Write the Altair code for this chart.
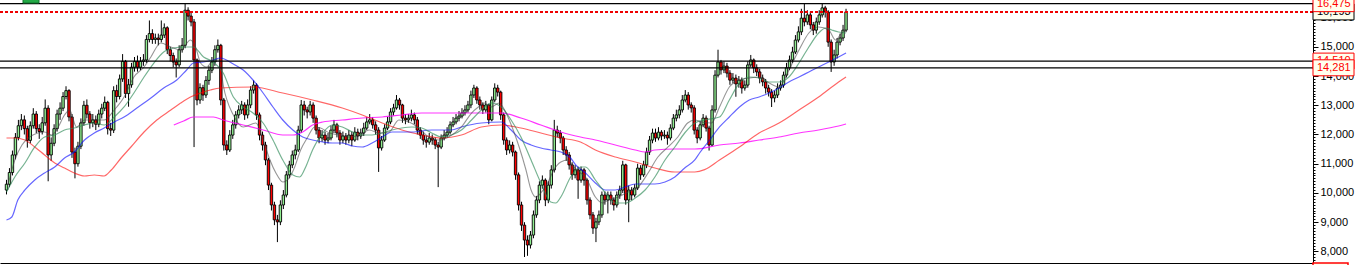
import altair as alt
import pandas as pd

# ---------------- data ----------------
opens = [
    10100, 10300, 10700, 11300, 11900, 12300, 12500, 12200, 11800, 12300,
    12700, 12200, 12100, 12400, 12900, 11300, 11700, 12200, 12700, 12900,
    13300, 13500, 12600, 11400, 11000, 11600, 12400, 13000, 12700, 12400,
    12500, 12350, 12700, 12900, 13100, 12200, 12150, 13500, 13300, 13900,
    14500, 13400, 13700, 14300, 14500, 14300, 14500, 14550, 15250, 15450,
    15250, 15300, 15250, 15400, 15650, 14900, 14700, 14480, 14380, 14900,
    15050, 16250, 16050, 15850, 14550, 13180, 13600, 13350, 13850, 14200,
    14480, 14900, 15050, 13180, 11640, 11470, 11980, 12330, 12670, 12840,
    13010, 12670, 13010, 13520, 13690, 12670, 11980, 11640, 11130, 10270,
    9590, 9080, 9010, 9590, 9930, 10620, 10960, 11300, 11470, 12150,
    13010, 12840, 12770, 13010, 12560, 12150, 11880, 11980, 11810, 11880,
    12150, 12330, 12050, 11810, 11950, 11810, 11980, 11810, 12080, 11950,
    12050, 12220, 12430, 12500, 12330, 12150, 11540, 11810, 12220, 12430,
    12770, 12910, 13180, 13010, 12560, 12500, 12560, 12670, 12500, 12150,
    11980, 11810, 11740, 11880, 11810, 11640, 11570, 11880, 11980, 12080,
    12330, 12430, 12560, 12630, 12740, 12840, 13010, 13350, 13590, 13180,
    13010, 12840, 13010, 12500, 13180, 13590, 13450, 12670, 11810, 11470,
    11640, 11400, 10620, 9590, 8900, 8390, 8220, 8560, 9250, 9760,
    10270, 10440, 9760, 10270, 10790, 12150, 12050, 11880, 11470, 11300,
    10960, 10620, 10790, 10440, 10790, 10440, 9760, 9250, 8800, 9010,
    9250, 9930, 9760, 9930, 9760, 9590, 9930, 10100, 10960, 9760,
    10100, 9930, 10170, 10850, 10620, 10960, 11400, 11810, 12050, 11880,
    12080, 11950, 11980, 11880, 12220, 12560, 12670, 12840, 13180, 13350,
    13010, 12910, 12150, 11880, 12330, 12560, 12220, 11640, 12840, 14030,
    14480, 14210, 14340, 14100, 13860, 13930, 13730, 13860, 13590, 13690,
    14380, 14550, 14280, 14140, 13930, 13800, 13590, 13450, 13250, 13350,
    13590, 13690, 14030, 14280, 14550, 14820, 15230, 15510, 15980, 15850,
    16090, 15750, 15570, 15850, 16090, 16330, 16190, 15160, 14480, 14720,
    15160, 15300, 15570,
]
highs = [
    10450, 10850, 11450, 12050, 12500, 12700, 12650, 12300, 12450, 12900,
    12800, 12350, 12600, 13200, 13000, 11900, 12350, 12850, 13100, 13450,
    13650, 13550, 12700, 11550, 11750, 12550, 13150, 13200, 12800, 12700,
    12650, 12850, 13050, 13300, 13150, 12400, 13650, 13700, 14050, 14750,
    14550, 13900, 14450, 14650, 14700, 14650, 14750, 15400, 15900, 15600,
    15450, 15450, 15900, 15800, 15700, 15000, 14800, 14600, 15050, 15300,
    16475, 16350, 16200, 15950, 14600, 13750, 13700, 14000, 14350, 14650,
    15050, 15250, 15100, 13250, 11800, 12150, 12500, 12800, 13000, 13150,
    13100, 13200, 13650, 13850, 13750, 12750, 12100, 11750, 11200, 10350,
    9700, 9250, 9750, 10100, 10750, 11100, 11450, 11650, 12300, 13180,
    13150, 12950, 13150, 13100, 12650, 12250, 12150, 12100, 12050, 12300,
    12500, 12400, 12150, 12100, 12050, 12150, 12100, 12250, 12200, 12200,
    12400, 12600, 12700, 12600, 12450, 12250, 11950, 12350, 12600, 12900,
    13050, 13350, 13250, 13050, 12700, 12700, 12850, 12750, 12600, 12250,
    12100, 11950, 12050, 12000, 11900, 11750, 12000, 12150, 12250, 12450,
    12600, 12700, 12800, 12900, 13000, 13150, 13500, 13700, 13650, 13300,
    13100, 13150, 13050, 13300, 13750, 13700, 13500, 12750, 11900, 11800,
    11750, 11450, 10700, 9700, 9000, 8550, 8700, 9400, 9900, 10400,
    10600, 10500, 10400, 10950, 12500, 12300, 12150, 11950, 11600, 11400,
    11050, 10950, 10900, 10900, 10850, 10500, 9850, 9350, 9150, 9400,
    10050, 10050, 10050, 10050, 9850, 10050, 10250, 11100, 11000, 10250,
    10200, 10300, 11000, 10950, 11100, 11550, 11950, 12200, 12200, 12250,
    12150, 12150, 12100, 12350, 12700, 12850, 13000, 13350, 13520, 13450,
    13100, 13000, 12250, 12450, 12700, 12650, 12300, 13000, 14200, 14900,
    14550, 14500, 14450, 14200, 14100, 14050, 14000, 13950, 13850, 14500,
    14720, 14600, 14400, 14250, 14050, 13900, 13700, 13550, 13500, 13750,
    13850, 14150, 14450, 14700, 15000, 15400, 15700, 16300, 16475, 16250,
    16200, 15850, 16000, 16250, 16475, 16400, 16250, 15250, 14900, 15300,
    15450, 15750, 16300,
]
lows = [
    9950, 10200, 10600, 11150, 11800, 12150, 12000, 11550, 11700, 12200,
    12050, 11850, 12000, 12300, 10400, 11100, 11600, 12100, 12500, 12800,
    13200, 12450, 11200, 10500, 10900, 11500, 12300, 12550, 12200, 12250,
    12150, 12250, 12550, 12800, 12000, 11950, 12050, 13100, 13200, 13800,
    13250, 12950, 13600, 14150, 14150, 14200, 14350, 14450, 15150, 15100,
    15100, 15050, 15150, 15300, 14750, 14500, 14300, 13950, 14300, 14800,
    14950, 15900, 15700, 11570, 13000, 13050, 13150, 13250, 13700, 14100,
    14350, 14800, 13000, 11450, 11300, 11400, 11850, 12200, 12550, 12700,
    12500, 12550, 12900, 13400, 12500, 11800, 11450, 10950, 10100, 9400,
    8900, 8320, 8900, 9450, 9850, 10500, 10850, 11150, 11400, 12050,
    12650, 12550, 12650, 12400, 12000, 11700, 11750, 11650, 11700, 11800,
    12050, 11900, 11650, 11700, 11650, 11700, 11600, 11750, 11800, 11850,
    11950, 12150, 12350, 12200, 12000, 10720, 11450, 11750, 12150, 12350,
    12650, 12850, 12850, 12400, 12350, 12400, 12450, 12350, 12000, 11850,
    11650, 11550, 11650, 11650, 11500, 10200, 11500, 11800, 11900, 12000,
    12250, 12350, 12450, 12550, 12650, 12750, 12900, 13250, 13050, 12850,
    12700, 12750, 12350, 12450, 13100, 13300, 12500, 11650, 11300, 11350,
    11250, 10450, 9400, 8700, 7810, 7850, 8100, 8450, 9150, 9650,
    10150, 9550, 9650, 10150, 10700, 11900, 11700, 11300, 11100, 10800,
    10450, 10500, 9800, 10350, 10250, 9600, 9100, 8600, 8320, 8900,
    9150, 9600, 9300, 9600, 9400, 9500, 9800, 10000, 9600, 9000,
    9750, 9850, 10100, 10450, 10550, 10850, 11300, 11700, 11750, 11800,
    11800, 11850, 11650, 11800, 12150, 12450, 12550, 12750, 13100, 12850,
    12750, 12000, 11700, 11800, 12250, 12100, 11450, 11600, 12750, 13950,
    14050, 14100, 13950, 13700, 13750, 13290, 13600, 13400, 13500, 13600,
    14300, 14100, 14000, 13750, 13650, 13400, 13300, 12940, 13100, 13250,
    13500, 13600, 13950, 14200, 14450, 14750, 15150, 15400, 15700, 15750,
    15600, 15400, 15450, 15750, 16000, 16000, 15000, 14140, 14350, 14600,
    15050, 15200, 15500,
]
closes = [
    10300, 10700, 11300, 11900, 12300, 12500, 12200, 11800, 12300, 12700,
    12200, 12100, 12400, 12900, 11300, 11700, 12200, 12700, 12900, 13300,
    13500, 12600, 11400, 11000, 11600, 12400, 13000, 12700, 12400, 12500,
    12350, 12700, 12900, 13100, 12200, 12150, 13500, 13300, 13900, 14500,
    13400, 13700, 14300, 14500, 14300, 14500, 14550, 15250, 15450, 15250,
    15300, 15250, 15400, 15650, 14900, 14700, 14480, 14380, 14900, 15050,
    16250, 16050, 15850, 14550, 13180, 13600, 13350, 13850, 14200, 14480,
    14900, 15050, 13180, 11640, 11470, 11980, 12330, 12670, 12840, 13010,
    12670, 13010, 13520, 13690, 12670, 11980, 11640, 11130, 10270, 9590,
    9080, 9010, 9590, 9930, 10620, 10960, 11300, 11470, 12150, 13010,
    12840, 12770, 13010, 12560, 12150, 11880, 11980, 11810, 11880, 12150,
    12330, 12050, 11810, 11950, 11810, 11980, 11810, 12080, 11950, 12050,
    12220, 12430, 12500, 12330, 12150, 11540, 11810, 12220, 12430, 12770,
    12910, 13180, 13010, 12560, 12500, 12560, 12670, 12500, 12150, 11980,
    11810, 11740, 11880, 11810, 11640, 11570, 11880, 11980, 12080, 12330,
    12430, 12560, 12630, 12740, 12840, 13010, 13350, 13590, 13180, 13010,
    12840, 13010, 12500, 13180, 13590, 13450, 12670, 11810, 11470, 11640,
    11400, 10620, 9590, 8900, 8390, 8220, 8560, 9250, 9760, 10270,
    10440, 9760, 10270, 10790, 12150, 12050, 11880, 11470, 11300, 10960,
    10620, 10790, 10440, 10790, 10440, 9760, 9250, 8800, 9010, 9250,
    9930, 9760, 9930, 9760, 9590, 9930, 10100, 10960, 9760, 10100,
    9930, 10170, 10850, 10620, 10960, 11400, 11810, 12050, 11880, 12080,
    11950, 11980, 11880, 12220, 12560, 12670, 12840, 13180, 13350, 13010,
    12910, 12150, 11880, 12330, 12560, 12220, 11640, 12840, 14030, 14480,
    14210, 14340, 14100, 13860, 13930, 13730, 13860, 13590, 13690, 14380,
    14550, 14280, 14140, 13930, 13800, 13590, 13450, 13250, 13350, 13590,
    13690, 14030, 14280, 14550, 14820, 15230, 15510, 15980, 15850, 16090,
    15750, 15570, 15850, 16090, 16330, 16190, 15160, 14480, 14720, 15160,
    15300, 15570, 16193,
]

# moving-average traces (bar index, value)
ma_gray = [
    (0.5, 10273), (2.8, 11128), (5.2, 11641), (7.8, 11915), (10.5, 12051), (12.8, 12086),
    (15.2, 11983), (17.2, 12222), (19.5, 12667), (21.2, 12838), (23.5, 12257), (26.2, 12496),
    (29.5, 12496), (32.8, 12496), (36.2, 12838), (39.5, 13283), (42.8, 13967), (46.2, 14309),
    (48.5, 14651), (51.8, 15129), (55.2, 14993), (58.5, 14890), (61.8, 15232), (63.5, 14993),
    (65.2, 14445), (67.2, 14309), (69.5, 14548), (71.5, 14548), (72.8, 13693), (76.2, 12667),
    (79.5, 12257), (83.8, 12393), (86.2, 11812), (88.5, 11128), (90.5, 10683), (92.8, 10376),
    (95.2, 10547), (96.8, 10889), (98.8, 11470), (101.2, 11915), (103.5, 12257), (105.5, 12222),
    (108.5, 12051), (111.8, 11983), (115.2, 11915), (118.5, 11983), (121.8, 12154), (125.2, 12051),
    (128.5, 12086), (131.8, 12496), (135.2, 12428), (138.5, 12222), (141.8, 11915), (145.2, 11812),
    (148.5, 11915), (152.8, 12257), (156.2, 12735), (158.5, 12941), (160.5, 13077), (162.8, 12941),
    (165.5, 13077), (167.8, 12735), (170.2, 12154), (172.2, 11573), (174.5, 10786), (176.2, 10102),
    (177.8, 9863), (179.5, 10000), (181.8, 10341), (183.8, 10786), (186.2, 11060), (188.5, 11128),
    (190.5, 10889), (192.8, 10683), (194.5, 10547), (197.8, 9863), (200.2, 9657), (202.2, 9760),
    (205.5, 9863), (208.8, 10034), (212.2, 10205), (215.5, 10683), (218.8, 11231), (222.2, 11573),
    (225.5, 11915), (228.8, 12393), (231.2, 12496), (233.5, 12428), (236.8, 12393), (239.5, 12941),
    (242.8, 13625), (246.2, 13864), (249.5, 13932), (252.8, 13967), (256.2, 13761), (259.5, 13625),
    (262.8, 14206), (266.2, 14890), (269.5, 15471), (272.8, 15677), (276.2, 15574), (278.5, 15232),
    (280.5, 15471), (282, 15574),
]
ma_green = [
    (0, 10034), (2.8, 10547), (6.2, 11025), (9.5, 11573), (12.8, 11915), (16.2, 11983),
    (19.5, 12154), (22.8, 12222), (26.2, 12325), (29.5, 12393), (32.8, 12325), (36.2, 12599),
    (39.5, 12941), (42.8, 13419), (46.2, 13967), (49.5, 14445), (52.8, 14822), (56.2, 14958),
    (59.5, 14993), (62.8, 14993), (66.2, 14651), (69.5, 14480), (72.8, 14103), (76.2, 13283),
    (79.5, 12941), (82.8, 12735), (86.2, 12393), (89.5, 11812), (92.8, 11128), (96.2, 10615),
    (98.5, 10547), (100.5, 10889), (102.8, 11470), (106.2, 12051), (109.5, 12325), (112.8, 12257),
    (116.2, 12086), (119.5, 11983), (122.8, 11983), (126.2, 12051), (129.5, 12154), (132.8, 12222),
    (136.2, 12257), (139.5, 12222), (142.8, 12051), (146.2, 11915), (149.5, 11983), (152.8, 12154),
    (156.2, 12496), (159.5, 12838), (162.8, 13077), (166.2, 12941), (169.5, 12496), (172.8, 11915),
    (176.2, 11128), (179.5, 10341), (182.8, 9692), (184.5, 9657), (186.2, 9863), (189.5, 10547),
    (192.8, 10889), (194.5, 10889), (197.8, 10444), (201.2, 10000), (204.5, 9657), (207.8, 9657),
    (211.2, 9828), (214.5, 10102), (217.8, 10547), (221.2, 11128), (224.5, 11573), (227.8, 12051),
    (231.2, 12393), (234.5, 12496), (239.5, 12599), (242.8, 13180), (246.2, 13761), (249.5, 13967),
    (252.8, 13932), (256.2, 13796), (259.5, 13796), (262.8, 13967), (266.2, 14445), (269.5, 14993),
    (272.8, 15471), (275.2, 15642), (277.2, 15574), (279.5, 15506), (282, 15471),
]
ma_blue = [
    (0, 9076), (1.8, 9179), (3.8, 9760), (6.2, 10102), (9.5, 10444), (12.8, 10683),
    (16.2, 10889), (19.5, 11196), (22.8, 11402), (26.2, 11812), (29.5, 12051), (32.8, 12222),
    (36.2, 12428), (39.5, 12599), (43.8, 12906), (48.5, 13248), (52.8, 13590), (57.2, 13864),
    (60.5, 14206), (62.8, 14445), (66.2, 14480), (69.5, 14548), (71.8, 14616), (76.2, 14411),
    (79.5, 14206), (82.8, 13864), (86.2, 13419), (89.5, 12941), (92.8, 12496), (96.2, 12154),
    (99.5, 11915), (102.8, 11812), (106.2, 11744), (109.5, 11709), (112.8, 11709), (116.2, 11607),
    (119.5, 11573), (122.8, 11709), (126.2, 11915), (129.5, 12086), (136.2, 12086), (142.8, 12154),
    (149.5, 12154), (152.8, 12257), (159.5, 12393), (166.2, 12428), (169.5, 12154), (172.8, 11812),
    (176.2, 11641), (179.5, 11538), (182.8, 11470), (186.2, 11402), (189.5, 11196), (191.2, 10957),
    (194.5, 10683), (197.8, 10341), (201.2, 10102), (204.5, 10102), (207.8, 10205), (211.2, 10307),
    (217.8, 10307), (221.2, 10376), (224.5, 10547), (227.8, 10854), (231.2, 11128), (232.8, 11367),
    (236.2, 11812), (239.5, 12257), (242.8, 12599), (246.2, 12941), (249.5, 13180), (252.8, 13283),
    (256.2, 13419), (259.5, 13590), (262.8, 13796), (266.2, 13967), (269.5, 14138), (272.8, 14309),
    (276.2, 14480), (279.5, 14651), (282, 14787),
]
ma_red = [
    (0, 11880), (2.8, 11880), (6.2, 11812), (9.5, 11573), (12.8, 11299), (16.2, 11025),
    (19.5, 10854), (22.8, 10683), (26.2, 10581), (29.5, 10615), (32.8, 10581), (35.2, 10786),
    (38.5, 11196), (41.8, 11573), (46.2, 12086), (50.5, 12496), (55.2, 12838), (58.5, 13077),
    (61.8, 13283), (65.2, 13419), (68.5, 13522), (71.8, 13590), (82.8, 13625), (92.8, 13419),
    (102.8, 13180), (112.8, 12906), (119.5, 12667), (126.2, 12393), (132.8, 12154), (139.5, 11983),
    (146.2, 11880), (152.8, 11983), (159.5, 12257), (166.2, 12325), (172.8, 12222), (179.5, 12051),
    (186.2, 11880), (192.8, 11744), (197.8, 11470), (204.5, 11231), (211.2, 11060), (217.8, 10854),
    (224.5, 10718), (231.2, 10718), (234.5, 10800), (239.5, 11128), (246.2, 11573), (252.8, 12051),
    (259.5, 12393), (266.2, 12838), (272.8, 13283), (279.5, 13796), (282, 13967),
]
ma_magenta = [
    (56.2, 12325), (59.5, 12462), (62.8, 12599), (66.2, 12599), (69.5, 12599), (72.8, 12496),
    (79.5, 12325), (86.2, 12154), (92.8, 11983), (96.2, 11983), (99.5, 12086), (102.8, 12325),
    (106.2, 12428), (112.8, 12496), (119.5, 12564), (126.2, 12599), (132.8, 12667), (139.5, 12735),
    (146.2, 12735), (152.8, 12735), (166.2, 12735), (172.8, 12564), (179.5, 12325), (186.2, 12086),
    (192.8, 11915), (197.8, 11812), (204.5, 11641), (211.2, 11470), (214.5, 11402), (217.8, 11470),
    (224.5, 11504), (231.2, 11504), (239.5, 11641), (246.2, 11709), (252.8, 11812), (259.5, 11915),
    (266.2, 12051), (272.8, 12154), (279.5, 12291), (282, 12359),
]

# horizontal reference lines and right-hand price tags
high_line = 16475
last_close = 16193
level_lines = [14510, 14281]
tag_values = [14510, 16193, 16475, 14281]
tag_texts = ["14,510", "16,193", "16,475", "14,281"]
tag_colors = ["#ff0000", "#000000", "#ff0000", "#ff0000"]

axis_major = [8000, 9000, 10000, 11000, 12000, 13000, 14000, 15000, 16000]

# ---------------- chart ----------------
Y_MIN, Y_MAX = 7605, 16600
PLOT_W, PLOT_H = 1313, 263
UPX = (Y_MAX - Y_MIN) / PLOT_H

xscale = alt.Scale(domain=[-0.5, 437.17], nice=False, zero=False)
yscale = alt.Scale(domain=[Y_MIN, Y_MAX], nice=False, zero=False)

n = len(closes)
candles = pd.DataFrame({
    "i": list(range(n)), "open": opens, "high": highs, "low": lows, "close": closes,
})

X = alt.X("i:Q", scale=xscale, title=None)

major_axis = alt.Axis(
    orient="right", values=axis_major, format=",.0f", labelFont="Liberation Sans",
    labelFontSize=11, labelColor="#000000", tickColor="#000000", tickSize=5,
    tickWidth=1, domainColor="#000000", domainWidth=1, grid=False, title=None,
    labelPadding=2, labelOverlap=False, labelFlush=False,
)
minor_axis = alt.Axis(
    orient="right", values=list(range(7700, 16600, 100)), labels=False, tickSize=2,
    tickColor="#000000", tickWidth=1, domain=False, grid=False, title=None,
)

wicks = alt.Chart(candles).mark_rule(color="black", strokeWidth=1).encode(
    x=X, y=alt.Y("low:Q", scale=yscale, axis=major_axis), y2="high:Q"
)
bodies = alt.Chart(candles).mark_bar(size=2.4, stroke="black", strokeWidth=0.9).encode(
    x=X,
    y=alt.Y("open:Q", scale=yscale, axis=minor_axis),
    y2="close:Q",
    color=alt.condition("datum.close >= datum.open", alt.value("#90ee90"), alt.value("#ff0000")),
)


def ma_layer(points, color, opacity, width):
    df = pd.DataFrame(points, columns=["i", "v"])
    return alt.Chart(df).mark_line(
        color=color, opacity=opacity, strokeWidth=width, interpolate="monotone"
    ).encode(x=X, y=alt.Y("v:Q", scale=yscale, axis=None))


ma_layers = [
    ma_layer(ma_magenta, "#ff00ff", 0.8, 1.2),
    ma_layer(ma_red, "#ff0000", 0.6, 1.2),
    ma_layer(ma_blue, "#0000ff", 0.6, 1.2),
    ma_layer(ma_green, "#2e8b57", 0.65, 1.2),
    ma_layer(ma_gray, "#404040", 0.55, 1.1),
]

lines_df = pd.DataFrame({"v": [high_line] + level_lines})
black_lines = alt.Chart(lines_df).mark_rule(color="black", strokeWidth=1.2).encode(
    y=alt.Y("v:Q", scale=yscale, axis=None)
)
dotted = alt.Chart(pd.DataFrame({"v": [last_close]})).mark_rule(
    color="#ee0000", strokeWidth=2, strokeDash=[3, 2]
).encode(y=alt.Y("v:Q", scale=yscale, axis=None))

tag_layers = []
half = 8 * UPX
for v, t, c in zip(tag_values, tag_texts, tag_colors):
    df = pd.DataFrame({"v": [v], "lo": [v - half], "hi": [v + half], "t": [t]})
    tag_layers.append(
        alt.Chart(df).mark_rect(fill="#ffffee", stroke=c, strokeWidth=1).encode(
            x=alt.value(PLOT_W), x2=alt.value(PLOT_W + 41),
            y=alt.Y("lo:Q", scale=yscale, axis=None), y2="hi:Q",
        )
    )
    tag_layers.append(
        alt.Chart(df).mark_text(
            align="left", baseline="middle", font="Liberation Sans", fontSize=11, color=c
        ).encode(x=alt.value(PLOT_W + 4), y=alt.Y("v:Q", scale=yscale, axis=None), text="t:N")
    )

bottom_tag = alt.Chart(pd.DataFrame({"lo": [Y_MIN - 16 * UPX], "hi": [Y_MIN]})).mark_rect(
    fill="#ffffee", stroke="#ff0000", strokeWidth=1.5
).encode(
    x=alt.value(PLOT_W), x2=alt.value(PLOT_W + 35),
    y=alt.Y("lo:Q", scale=yscale, axis=None), y2="hi:Q",
)

corner = alt.Chart(pd.DataFrame({"a": [0]})).mark_rect(
    fill="#22a845", stroke="#11772f", strokeWidth=1
).encode(x=alt.value(23), x2=alt.value(39), y=alt.value(-5), y2=alt.value(3))

chart = alt.layer(
    wicks, bodies, *ma_layers, black_lines, dotted, *tag_layers, bottom_tag, corner
).resolve_axis(y="independent").resolve_scale(y="shared").properties(
    width=PLOT_W, height=PLOT_H,
    autosize=alt.AutoSizeParams(type="none"),
    padding={"left": 0, "top": 0, "right": 47, "bottom": 2},
    background="white",
).configure_view(stroke=None).configure_axisX(
    labels=False, ticks=False, grid=False, domainColor="black", domainWidth=1, title=None
)

chart.save("out.html", embed_options={"renderer": "svg", "actions": False})
